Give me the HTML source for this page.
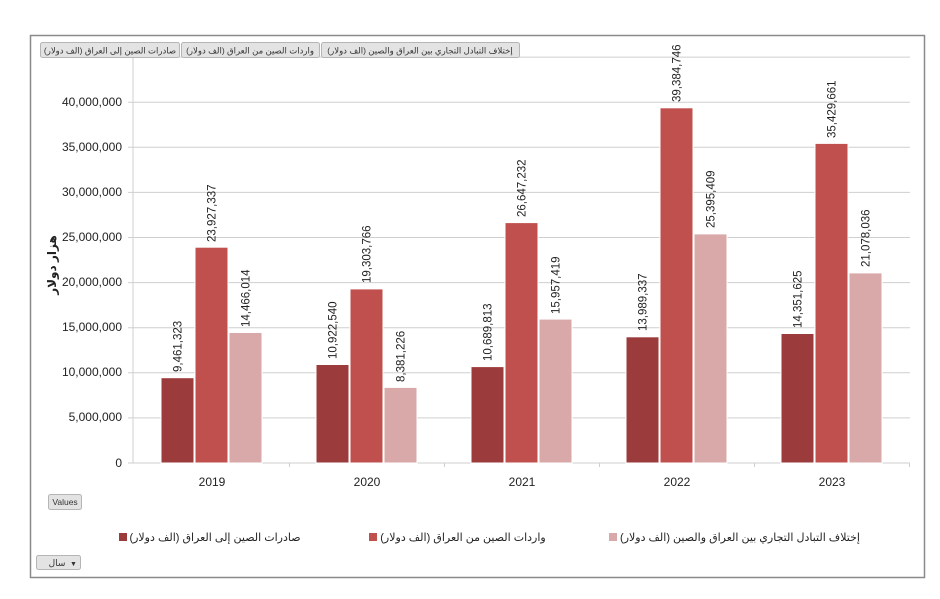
<!DOCTYPE html>
<html><head><meta charset="utf-8"><style>
body{margin:0;background:#fff;width:940px;height:599px;overflow:hidden}
svg{display:block}
text{font-family:"Liberation Sans","DejaVu Sans",sans-serif}
</style></head><body>
<svg width="940" height="599" xmlns="http://www.w3.org/2000/svg">
<rect x="30.5" y="35.5" width="894" height="542" fill="#fff" stroke="#8a8a8a" stroke-width="1.5"/>
<g stroke="#cfcfcf" stroke-width="1">
<line x1="128" x2="910" y1="57.1" y2="57.1"/>
<line x1="128" x2="910" y1="102.2" y2="102.2"/>
<line x1="128" x2="910" y1="147.3" y2="147.3"/>
<line x1="128" x2="910" y1="192.4" y2="192.4"/>
<line x1="128" x2="910" y1="237.5" y2="237.5"/>
<line x1="128" x2="910" y1="282.6" y2="282.6"/>
<line x1="128" x2="910" y1="327.7" y2="327.7"/>
<line x1="128" x2="910" y1="372.8" y2="372.8"/>
<line x1="128" x2="910" y1="417.9" y2="417.9"/>
<line x1="128" x2="910" y1="463" y2="463"/>
<line x1="133" x2="133" y1="50" y2="463"/>
<line x1="289.5" x2="289.5" y1="463" y2="467"/>
<line x1="444.5" x2="444.5" y1="463" y2="467"/>
<line x1="599.5" x2="599.5" y1="463" y2="467"/>
<line x1="754.5" x2="754.5" y1="463" y2="467"/>
<line x1="909.5" x2="909.5" y1="463" y2="467"/>
</g>
<g font-size="12" fill="#222" text-anchor="end">
<text x="122" y="106">40,000,000</text>
<text x="122" y="151">35,000,000</text>
<text x="122" y="196">30,000,000</text>
<text x="122" y="241">25,000,000</text>
<text x="122" y="286">20,000,000</text>
<text x="122" y="331">15,000,000</text>
<text x="122" y="376">10,000,000</text>
<text x="122" y="421">5,000,000</text>
<text x="122" y="467">0</text>
</g>
<text x="0" y="0" font-size="12" font-weight="bold" fill="#222" text-anchor="middle" transform="translate(56,265) rotate(-90)">هزار دولار</text>
<g stroke="#fff" stroke-width="1">
<rect x="161" y="377.7" width="33" height="85.3" fill="#9c3b3b"/>
<rect x="195" y="247.2" width="33" height="215.8" fill="#c0504d"/>
<rect x="229" y="332.5" width="33" height="130.5" fill="#d9a8a8"/>
<rect x="316" y="364.5" width="33" height="98.5" fill="#9c3b3b"/>
<rect x="350" y="288.9" width="33" height="174.1" fill="#c0504d"/>
<rect x="384" y="387.4" width="33" height="75.6" fill="#d9a8a8"/>
<rect x="471" y="366.6" width="33" height="96.4" fill="#9c3b3b"/>
<rect x="505" y="222.6" width="33" height="240.4" fill="#c0504d"/>
<rect x="539" y="319.1" width="33" height="143.9" fill="#d9a8a8"/>
<rect x="626" y="336.8" width="33" height="126.2" fill="#9c3b3b"/>
<rect x="660" y="107.8" width="33" height="355.2" fill="#c0504d"/>
<rect x="694" y="233.9" width="33" height="229.1" fill="#d9a8a8"/>
<rect x="781" y="333.5" width="33" height="129.5" fill="#9c3b3b"/>
<rect x="815" y="143.4" width="33" height="319.6" fill="#c0504d"/>
<rect x="849" y="272.9" width="33" height="190.1" fill="#d9a8a8"/>
</g>
<g font-size="11.5" fill="#222">
<text transform="translate(181.5,372) rotate(-90)">9,461,323</text>
<text transform="translate(215.5,242) rotate(-90)">23,927,337</text>
<text transform="translate(249.5,327) rotate(-90)">14,466,014</text>
<text transform="translate(336.5,359) rotate(-90)">10,922,540</text>
<text transform="translate(370.5,283) rotate(-90)">19,303,766</text>
<text transform="translate(404.5,382) rotate(-90)">8,381,226</text>
<text transform="translate(491.5,361) rotate(-90)">10,689,813</text>
<text transform="translate(525.5,217) rotate(-90)">26,647,232</text>
<text transform="translate(559.5,314) rotate(-90)">15,957,419</text>
<text transform="translate(646.5,331) rotate(-90)">13,989,337</text>
<text transform="translate(680.5,102) rotate(-90)">39,384,746</text>
<text transform="translate(714.5,228) rotate(-90)">25,395,409</text>
<text transform="translate(801.5,328) rotate(-90)">14,351,625</text>
<text transform="translate(835.5,138) rotate(-90)">35,429,661</text>
<text transform="translate(869.5,267) rotate(-90)">21,078,036</text>
</g>
<g font-size="12" fill="#222" text-anchor="middle">
<text x="212" y="486">2019</text>
<text x="367" y="486">2020</text>
<text x="522" y="486">2021</text>
<text x="677" y="486">2022</text>
<text x="832" y="486">2023</text>
</g>
<g font-size="8.5" fill="#333">
<rect x="40.5" y="42.5" width="139" height="15" rx="2" fill="#e3e3e3" stroke="#b5b5b5"/>
<text x="110" y="53.5" text-anchor="middle">صادرات الصين إلى العراق (الف دولار)</text>
<rect x="181.5" y="42.5" width="138" height="15" rx="2" fill="#e3e3e3" stroke="#b5b5b5"/>
<text x="250" y="53.5" text-anchor="middle">واردات الصين من العراق (الف دولار)</text>
<rect x="321.5" y="42.5" width="198" height="15" rx="2" fill="#e3e3e3" stroke="#b5b5b5"/>
<text x="420" y="53.5" text-anchor="middle">إختلاف التبادل التجاري بين العراق والصين (الف دولار)</text>
</g>
<rect x="48.5" y="494.5" width="33" height="15" rx="2" fill="#e3e3e3" stroke="#b5b5b5"/>
<text x="65" y="505" font-size="8.5" fill="#333" text-anchor="middle">Values</text>
<rect x="36.5" y="555.5" width="44" height="14" rx="2" fill="#e3e3e3" stroke="#b5b5b5"/>
<text x="57" y="566" font-size="9" fill="#333" text-anchor="middle">سال</text>
<text x="70" y="566" font-size="7" fill="#333">▼</text>
<g font-size="11" fill="#222" text-anchor="middle">
<rect x="119" y="533" width="8" height="8" fill="#9c3b3b"/>
<text x="215" y="541">صادرات الصين إلى العراق (الف دولار)</text>
<rect x="369" y="533" width="8" height="8" fill="#c0504d"/>
<text x="463" y="541">واردات الصين من العراق (الف دولار)</text>
<rect x="609" y="533" width="8" height="8" fill="#d9a8a8"/>
<text x="740" y="541">إختلاف التبادل التجاري بين العراق والصين (الف دولار)</text>
</g>
</svg>
</body></html>
